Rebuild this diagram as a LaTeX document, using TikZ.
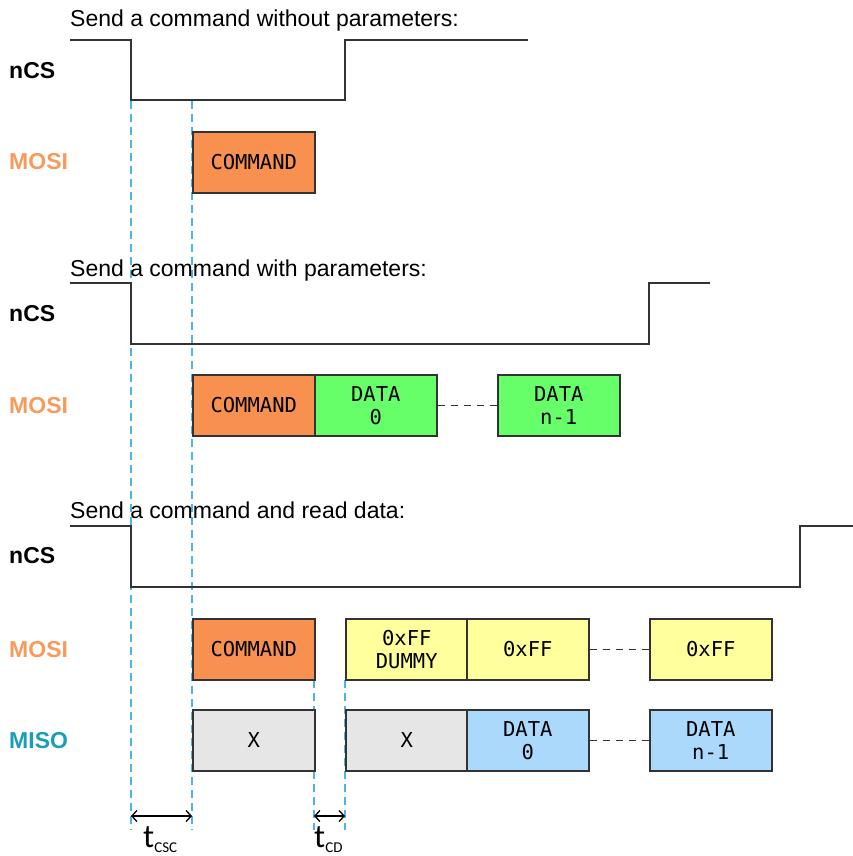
\documentclass[tikz,border=0pt]{standalone}
\usepackage{fontspec}
\setmainfont{Liberation Sans}
\newfontfamily\boxfont{DejaVu Sans Mono}
\newfontfamily\tfont{Carlito}
\usetikzlibrary{arrows.meta}
\definecolor{sigline}{HTML}{333333}
\definecolor{cmdorange}{HTML}{F8914F}
\definecolor{datagreen}{HTML}{66FF6A}
\definecolor{ffyellow}{HTML}{FFFF9C}
\definecolor{xgray}{HTML}{E6E6E6}
\definecolor{datablue}{HTML}{AAD9FC}
\definecolor{mosicol}{HTML}{F79A5C}
\definecolor{misocol}{HTML}{1A9DBA}
\definecolor{guide}{HTML}{4FB4E4}
\tikzset{
  title/.style={anchor=base west, inner sep=0pt, font=\fontsize{23}{26}\selectfont},
  sig/.style={anchor=west, inner sep=0pt, font=\fontsize{23}{26}\selectfont\bfseries},
  wave/.style={draw=sigline, line width=1.8pt, line join=miter},
  cell/.style={draw=sigline, line width=1.5pt, anchor=north west, minimum width=122pt,
    minimum height=61pt, inner sep=0pt, align=center, font=\boxfont\fontsize{20.5}{23}\selectfont},
  gapline/.style={draw=sigline, line width=1.5pt, dash pattern=on 7pt off 6pt},
  guideline/.style={draw=guide, line width=1.5pt, dash pattern=on 8pt off 5pt},
  dim/.style={draw=black, line width=1.3pt, {Straight Barb[length=5pt,width=11pt]}-{Straight Barb[length=5pt,width=11pt]}},
  tlabel/.style={inner sep=0pt, anchor=base west}
}
\begin{document}
\begin{tikzpicture}[x=1pt,y=-1pt]
\useasboundingbox (0,0) rectangle (853,856);

% guide lines (behind boxes)
\coordinate (g1t) at (131,101); \coordinate (g1b) at (131,830);
\coordinate (g2t) at (192,101); \coordinate (g2b) at (192,830);
\coordinate (g3t) at (314,680); \coordinate (g3b) at (314,830);
\coordinate (g4t) at (345,680); \coordinate (g4b) at (345,830);
\draw[guideline] (g1t) -- (g1b);
\draw[guideline] (g2t) -- (g2b);
\draw[guideline] (g3t) -- (g3b);
\draw[guideline] (g4t) -- (g4b);

% ---------- section 1
\node[title] (t1) at (70,27) {Send a command without parameters:};
\node[sig] (ncs1) at (9,71) {nCS};
\node[sig, text=mosicol] (mosi1) at (9,162) {MOSI};
\draw[wave] (70,40) -- (131,40) -- (131,100) -- (345,100) -- (345,40) -- (528,40);
\node[cell, fill=cmdorange] (c1) at (192,131) {COMMAND};

% ---------- section 2
\node[title] (t2) at (70,276) {Send a command with parameters:};
\node[sig] (ncs2) at (9,314) {nCS};
\node[sig, text=mosicol] (mosi2) at (9,406) {MOSI};
\draw[wave] (70,283) -- (131,283) -- (131,344) -- (649,344) -- (649,283) -- (710,283);
\node[cell, fill=cmdorange] (c2) at (192,374) {COMMAND};
\node[cell, fill=datagreen] (d20) at (314,374) {DATA\\0};
\node[cell, fill=datagreen] (d2n) at (497,374) {DATA\\n-1};
\draw[gapline] (d20.east) -- (d2n.west);

% ---------- section 3
\node[title] (t3) at (70,518) {Send a command and read data:};
\node[sig] (ncs3) at (9,556) {nCS};
\node[sig, text=mosicol] (mosi3) at (9,650) {MOSI};
\node[sig, text=misocol] (miso3) at (9,741) {MISO};
\draw[wave] (70,526) -- (131,526) -- (131,587) -- (800,587) -- (800,526) -- (853,526);
\node[cell, fill=cmdorange] (c3) at (192,618) {COMMAND};
\node[cell, fill=ffyellow] (y0) at (345,618) {0xFF\\DUMMY};
\node[cell, fill=ffyellow] (y1) at (466,618) {0xFF};
\node[cell, fill=ffyellow] (yn) at (649,618) {0xFF};
\draw[gapline] (y1.east) -- (yn.west);
\node[cell, fill=xgray] (x0) at (192,709) {X};
\node[cell, fill=xgray] (x1) at (345,709) {X};
\node[cell, fill=datablue] (b0) at (466,709) {DATA\\0};
\node[cell, fill=datablue] (bn) at (649,709) {DATA\\n-1};
\draw[gapline] (b0.east) -- (bn.west);

% ---------- timing dimensions
\coordinate (a1) at (131,816); \coordinate (a2) at (192,816);
\coordinate (a3) at (314,816); \coordinate (a4) at (345,816);
\draw[dim] (a1) -- (a2);
\draw[dim] (a3) -- (a4);
\node[tlabel] (tcsc) at (143,847) {\tfont\fontsize{33}{34}\selectfont t\raisebox{-5pt}{\fontsize{15}{16}\selectfont CSC}};
\node[tlabel] (tcd) at (314,847) {\tfont\fontsize{33}{34}\selectfont t\raisebox{-5pt}{\fontsize{15}{16}\selectfont CD}};
\end{tikzpicture}
\end{document}
